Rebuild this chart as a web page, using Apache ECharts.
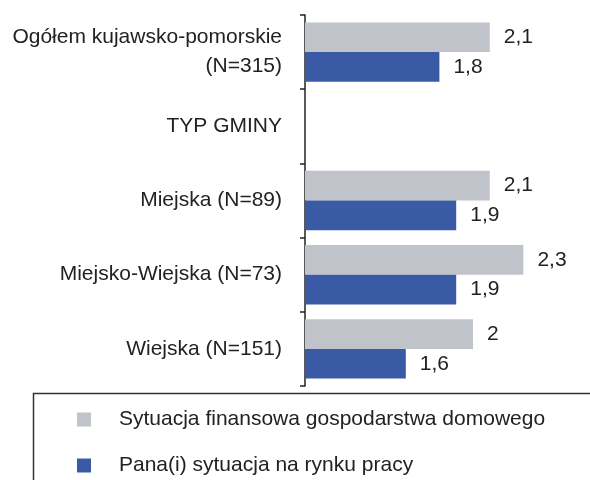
<!DOCTYPE html>
<html>
<head>
<meta charset="utf-8">
<script src="https://cdn.jsdelivr.net/npm/echarts@6/dist/echarts.min.js"></script>
<style>
  html, body { margin: 0; padding: 0; background: #fff; }
  #main { width: 590px; height: 480px; }
</style>
</head>
<body>
<div id="main"></div>
<script>
// kategorie (od góry)
var categories = [
  'Ogółem kujawsko-pomorskie\n(N=315)',
  'TYP GMINY',
  'Miejska (N=89)',
  'Miejsko-Wiejska (N=73)',
  'Wiejska (N=151)'
]
var seriesNames = [
  'Sytuacja finansowa gospodarstwa domowego',
  'Pana(i) sytuacja na rynku pracy'
]
var finansowa = [2.1, '-', 2.1, 2.3, 2.0]
var rynekPracy = [1.8, '-', 1.9, 1.9, 1.6]

var font = 'Liberation Sans, Arial, Helvetica, sans-serif'
var labelStyle = {
  show: true,
  position: 'right',
  distance: 14,
  color: '#222',
  fontSize: 21,
  fontFamily: font,
  formatter: function (p) {
    return String(p.value).replace('.', ',')
  }
}

// jedna legenda na wiersz, bo ramka wychodzi poza obraz
function legendRow(name, top) {
  return {
    orient: 'vertical',
    left: 77,
    top: top,
    padding: 0,
    icon: 'rect',
    itemWidth: 14,
    itemHeight: 14,
    data: [name],
    textStyle: {
      color: '#222',
      fontSize: 21,
      lineHeight: 14,
      fontFamily: font,
      padding: [0, 0, 0, 23]
    }
  }
}

var myChart = echarts.init(document.getElementById('main'))
var option = {
  animation: false,
  textStyle: { fontFamily: font },
  grid: { left: 305, right: 33, top: 15, height: 371, containLabel: false },
  xAxis: {
    type: 'value',
    min: 1,
    max: 2.5,
    show: false
  },
  yAxis: {
    type: 'category',
    inverse: true,
    data: categories,
    axisLine: { show: true, lineStyle: { color: '#222', width: 1.5 } },
    axisTick: { show: true, length: 5, lineStyle: { color: '#222', width: 1.5 } },
    axisLabel: {
      margin: 23,
      color: '#222',
      fontSize: 21,
      lineHeight: 29,
      fontFamily: font
    }
  },
  legend: [legendRow(seriesNames[0], 409), legendRow(seriesNames[1], 455)],
  graphic: [
    {
      type: 'rect',
      shape: { x: 33.5, y: 393.5, width: 600, height: 120 },
      style: { fill: 'none', stroke: '#333', lineWidth: 1.5 },
      z: -1
    }
  ],
  series: [
    {
      name: seriesNames[0],
      type: 'bar',
      data: finansowa,
      barGap: '0%',
      barCategoryGap: '20%',
      itemStyle: { color: '#C0C3CA' },
      label: labelStyle
    },
    {
      name: seriesNames[1],
      type: 'bar',
      data: rynekPracy,
      itemStyle: { color: '#3A5AA6' },
      label: labelStyle
    }
  ]
}
myChart.setOption(option)
</script>
</body>
</html>
